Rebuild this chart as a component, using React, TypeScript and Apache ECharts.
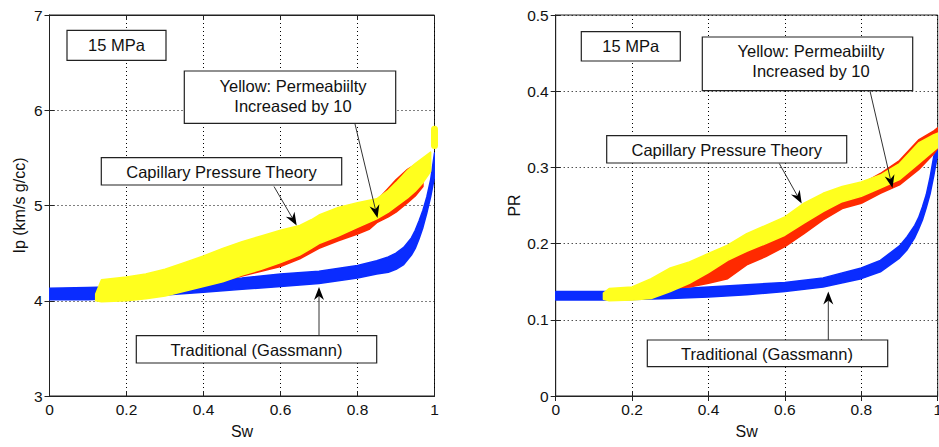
import React, { useEffect, useRef } from "react";
import * as echarts from "echarts";

// ---------- axes ----------
const swTicks = ["0", "0.2", "0.4", "0.6", "0.8", "1"];
const ipTicks = ["3", "4", "5", "6", "7"];
const prTicks = ["0", "0.1", "0.2", "0.3", "0.4", "0.5"];

// ---------- left panel: Ip (km/s g/cc) ----------
// Traditional (Gassmann) – blue band
const ipBlueSw = [0, 0.1, 0.2, 0.3, 0.4, 0.5, 0.6, 0.7, 0.8, 0.85, 0.88, 0.9, 0.92, 0.94, 0.95, 0.96, 0.97, 0.98, 0.99, 1.0];
const ipBlueLow = [4.01, 4.01, 4.03, 4.06, 4.09, 4.12, 4.15, 4.18, 4.24, 4.28, 4.3, 4.33, 4.38, 4.48, 4.55, 4.65, 4.77, 4.92, 5.09, 5.3];
const ipBlueHigh = [4.13, 4.14, 4.15, 4.18, 4.21, 4.24, 4.28, 4.31, 4.37, 4.42, 4.46, 4.5, 4.56, 4.66, 4.74, 4.84, 4.95, 5.09, 5.27, 5.55];
// Capillary pressure theory – red band
const ipRedSw = [0.33, 0.36, 0.4, 0.45, 0.5, 0.55, 0.6, 0.65, 0.7, 0.75, 0.8, 0.83, 0.85, 0.88, 0.9, 0.93, 0.95, 0.97];
const ipRedLow = [4.1, 4.13, 4.17, 4.21, 4.26, 4.31, 4.36, 4.44, 4.55, 4.63, 4.7, 4.75, 4.82, 4.88, 4.93, 5.03, 5.1, 5.2];
const ipRedHigh = [4.12, 4.2, 4.4, 4.5, 4.57, 4.63, 4.69, 4.73, 4.85, 4.93, 4.98, 5.01, 5.05, 5.18, 5.27, 5.38, 5.43, 5.45];
// Permeability increased by 10 – yellow band
const ipYellowSw = [0.12, 0.135, 0.2, 0.25, 0.3, 0.35, 0.4, 0.45, 0.5, 0.55, 0.6, 0.65, 0.68, 0.7, 0.75, 0.8, 0.85, 0.88, 0.9, 0.93, 0.95, 0.97, 0.99];
const ipYellowLow = [4.0, 3.99, 4.0, 4.02, 4.05, 4.1, 4.15, 4.2, 4.27, 4.33, 4.4, 4.48, 4.55, 4.6, 4.68, 4.77, 4.86, 4.93, 4.99, 5.08, 5.15, 5.24, 5.36];
const ipYellowHigh = [4.07, 4.22, 4.25, 4.28, 4.33, 4.4, 4.47, 4.55, 4.62, 4.68, 4.74, 4.79, 4.85, 4.9, 4.98, 5.03, 5.07, 5.16, 5.24, 5.37, 5.44, 5.5, 5.56];
const ipYellowEndSw = [1, 1];
const ipYellowEndIp = [5.63, 5.8];

// ---------- right panel: PR ----------
const prBlueSw = [0, 0.15, 0.3, 0.4, 0.5, 0.6, 0.7, 0.8, 0.85, 0.9, 0.92, 0.94, 0.95, 0.96, 0.97, 0.98, 0.99, 1.0];
const prBlueLow = [0.126, 0.126, 0.128, 0.13, 0.133, 0.137, 0.143, 0.154, 0.163, 0.181, 0.192, 0.208, 0.219, 0.231, 0.247, 0.265, 0.29, 0.318];
const prBlueHigh = [0.137, 0.137, 0.14, 0.143, 0.146, 0.149, 0.155, 0.168, 0.178, 0.197, 0.209, 0.224, 0.234, 0.248, 0.264, 0.287, 0.315, 0.35];
const prRedSw = [0.315, 0.35, 0.4, 0.45, 0.5, 0.55, 0.6, 0.65, 0.7, 0.75, 0.8, 0.85, 0.9, 0.95, 0.99, 1.0];
const prRedLow = [0.142, 0.143, 0.148, 0.154, 0.172, 0.183, 0.196, 0.213, 0.231, 0.246, 0.253, 0.266, 0.277, 0.297, 0.318, 0.325];
const prRedHigh = [0.146, 0.165, 0.18, 0.19, 0.205, 0.215, 0.228, 0.245, 0.26, 0.27, 0.278, 0.292, 0.309, 0.336, 0.348, 0.352];
const prYellowSw = [0.125, 0.14, 0.2, 0.25, 0.3, 0.35, 0.4, 0.45, 0.5, 0.55, 0.6, 0.65, 0.7, 0.75, 0.8, 0.85, 0.9, 0.95, 0.99, 1.0];
const prYellowLow = [0.127, 0.125, 0.126, 0.128, 0.137, 0.148, 0.162, 0.178, 0.19, 0.2, 0.211, 0.227, 0.242, 0.255, 0.262, 0.273, 0.284, 0.305, 0.322, 0.326];
const prYellowHigh = [0.135, 0.141, 0.143, 0.154, 0.168, 0.176, 0.187, 0.198, 0.213, 0.224, 0.235, 0.253, 0.266, 0.275, 0.281, 0.29, 0.305, 0.332, 0.343, 0.345];

const BLUE = "#0a2cff";
const RED = "#ff2a00";
const YELLOW = "#ffff1e";
const FONT = "Liberation Sans, Arial, Helvetica, sans-serif";

function band(idx: number, sw: number[], low: number[], high: number[], color: string, z: number) {
  return {
    type: "custom",
    xAxisIndex: idx,
    yAxisIndex: idx,
    z,
    clip: true,
    data: sw.map((x, i) => [x, low[i], high[i]]),
    encode: { x: 0, y: [1, 2] },
    renderItem: (params: any, api: any) => {
      if (params.dataIndex !== 0) return null;
      const pts: number[][] = [];
      for (let i = 0; i < sw.length; i++) pts.push(api.coord([sw[i], high[i]]));
      for (let i = sw.length - 1; i >= 0; i--) pts.push(api.coord([sw[i], low[i]]));
      return {
        type: "polygon",
        shape: { points: pts },
        style: { fill: color, stroke: color, lineWidth: 1.5, lineJoin: "round" },
      };
    },
  };
}

function box(x: number, y: number, w: number, h: number) {
  return {
    type: "rect",
    shape: { x, y, width: w, height: h },
    style: { fill: "#fff", stroke: "#222", lineWidth: 1.2 },
    z: 100,
  };
}

function label(x: number, y: number, text: string) {
  return {
    type: "text",
    x,
    y,
    z: 101,
    style: {
      text,
      fill: "#111",
      fontSize: 16.5,
      fontFamily: FONT,
      align: "center",
      verticalAlign: "middle",
      lineHeight: 20,
    },
  };
}

function arrow(x1: number, y1: number, x2: number, y2: number) {
  const dx = x2 - x1;
  const dy = y2 - y1;
  const L = Math.hypot(dx, dy);
  const ux = dx / L;
  const uy = dy / L;
  const px = -uy;
  const py = ux;
  const hl = 13;
  const hw = 5;
  const notch = 9;
  const n = [x2 - ux * notch, y2 - uy * notch];
  return [
    {
      type: "line",
      z: 100,
      shape: { x1, y1, x2: n[0], y2: n[1] },
      style: { stroke: "#333", lineWidth: 1 },
    },
    {
      type: "polygon",
      z: 100,
      shape: {
        points: [
          [x2, y2],
          [x2 - ux * hl + px * hw, y2 - uy * hl + py * hw],
          n,
          [x2 - ux * hl - px * hw, y2 - uy * hl - py * hw],
        ],
      },
      style: { fill: "#000" },
    },
  ];
}

const gridStyle = { show: true, lineStyle: { color: "#000", width: 1, type: [1, 3] } };
const tickStyle = { show: true, inside: true, length: 5, lineStyle: { color: "#222" } };
const nameStyle = { fontSize: 16, color: "#111", fontFamily: FONT };

function mainX(gridIndex: number) {
  return {
    type: "value",
    gridIndex,
    min: 0,
    max: 1,
    interval: 0.2,
    axisLine: { show: true, lineStyle: { color: "#222", width: 1 } },
    axisTick: tickStyle,
    splitLine: gridStyle,
    axisLabel: {
      fontSize: 15.5,
      color: "#111",
      fontFamily: FONT,
      margin: 5,
      formatter: (_v: number, i: number) => swTicks[i],
    },
    name: "Sw",
    nameLocation: "middle",
    nameGap: 27,
    nameTextStyle: nameStyle,
  };
}

function sideX(gridIndex: number) {
  return {
    type: "value",
    gridIndex,
    position: "top",
    min: 0,
    max: 1,
    interval: 0.2,
    axisLine: { show: true, lineStyle: { color: "#222" } },
    axisTick: tickStyle,
    axisLabel: { show: false },
    splitLine: { show: false },
  };
}

export default function App() {
  const ref = useRef<HTMLDivElement>(null);
  useEffect(() => {
    if (!ref.current) return;
    const chart = echarts.init(ref.current, undefined, { renderer: "svg" });
    const option: any = {
      animation: false,
      backgroundColor: "#fff",
      textStyle: { fontFamily: FONT },
      grid: [
        { left: 49.5, top: 15, width: 385, height: 381, show: true, borderColor: "#222", borderWidth: 1, backgroundColor: "#fff" },
        { left: 555.7, top: 15, width: 385, height: 381, show: true, borderColor: "#222", borderWidth: 1, backgroundColor: "#fff" },
      ],
      xAxis: [mainX(0), mainX(1), sideX(0), sideX(1)],
      yAxis: [
        {
          type: "value",
          gridIndex: 0,
          min: 3,
          max: 7,
          interval: 1,
          axisLine: { show: true, lineStyle: { color: "#222" } },
          axisTick: tickStyle,
          splitLine: gridStyle,
          axisLabel: {
            fontSize: 15.5,
            color: "#111",
            fontFamily: FONT,
            margin: 7,
            formatter: (_v: number, i: number) => ipTicks[i],
          },
          name: "Ip (km/s g/cc)",
          nameLocation: "middle",
          nameRotate: 90,
          nameGap: 22,
          nameTextStyle: nameStyle,
        },
        {
          type: "value",
          gridIndex: 1,
          min: 0,
          max: 0.5,
          interval: 0.1,
          axisLine: { show: true, lineStyle: { color: "#222" } },
          axisTick: tickStyle,
          splitLine: gridStyle,
          axisLabel: {
            fontSize: 15.5,
            color: "#111",
            fontFamily: FONT,
            margin: 7,
            formatter: (_v: number, i: number) => prTicks[i],
          },
          name: "PR",
          nameLocation: "middle",
          nameRotate: 90,
          nameGap: 33,
          nameTextStyle: nameStyle,
        },
        {
          type: "value",
          gridIndex: 0,
          position: "right",
          min: 3,
          max: 7,
          interval: 1,
          axisLine: { show: true, lineStyle: { color: "#222" } },
          axisTick: tickStyle,
          axisLabel: { show: false },
          splitLine: { show: false },
        },
        {
          type: "value",
          gridIndex: 1,
          position: "right",
          min: 0,
          max: 0.5,
          interval: 0.1,
          axisLine: { show: true, lineStyle: { color: "#222" } },
          axisTick: tickStyle,
          axisLabel: { show: false },
          splitLine: { show: false },
        },
      ],
      series: [
        band(0, ipBlueSw, ipBlueLow, ipBlueHigh, BLUE, 2),
        band(0, ipRedSw, ipRedLow, ipRedHigh, RED, 3),
        band(0, ipYellowSw, ipYellowLow, ipYellowHigh, YELLOW, 4),
        {
          type: "line",
          xAxisIndex: 0,
          yAxisIndex: 0,
          z: 5,
          clip: false,
          symbol: "none",
          data: ipYellowEndSw.map((x, i) => [x, ipYellowEndIp[i]]),
          lineStyle: { color: YELLOW, width: 7, cap: "round" },
        },
        band(1, prBlueSw, prBlueLow, prBlueHigh, BLUE, 2),
        band(1, prRedSw, prRedLow, prRedHigh, RED, 3),
        band(1, prYellowSw, prYellowLow, prYellowHigh, YELLOW, 4),
      ],
      graphic: [
        // left panel annotations
        box(67, 30.3, 99, 30),
        label(116.5, 45, "15 MPa"),
        box(184.3, 71, 211.4, 52.3),
        label(293, 96, "Yellow: Permeabiilty\nIncreased by 10"),
        box(101.3, 157.7, 240.4, 27.3),
        label(221.5, 171.5, "Capillary Pressure Theory"),
        box(136.3, 335.7, 240.4, 27.3),
        label(256.5, 349.5, "Traditional (Gassmann)"),
        ...arrow(274, 186.5, 296.7, 225.5),
        ...arrow(355, 124, 377.5, 218),
        ...arrow(319, 335.7, 319, 287),
        // right panel annotations
        box(581.3, 31.7, 99, 29.3),
        label(630.8, 46, "15 MPa"),
        box(702.3, 37, 210.4, 53.7),
        label(811, 61, "Yellow: Permeabiilty\nIncreased by 10"),
        box(606.7, 135.7, 240, 27.3),
        label(726.7, 149.5, "Capillary Pressure Theory"),
        box(647.3, 340, 240.4, 26.7),
        label(767, 353.5, "Traditional (Gassmann)"),
        ...arrow(779.3, 163.5, 801.7, 203.5),
        ...arrow(870, 91, 892.5, 188),
        ...arrow(828.3, 340, 828.3, 291.5),
      ],
    };
    chart.setOption(option);
    return () => chart.dispose();
  }, []);
  return (
    <div
      ref={ref}
      style={{ position: "fixed", left: 0, top: 0, width: 945, height: 447, background: "#fff" }}
    />
  );
}
